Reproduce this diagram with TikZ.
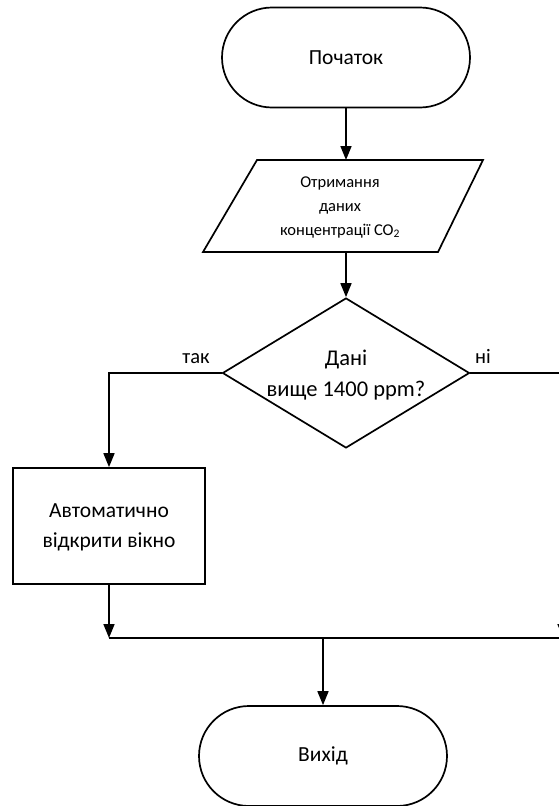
\documentclass[tikz,border=0pt]{standalone}
\usepackage{fontspec}
\setmainfont{Carlito}
\usetikzlibrary{shapes.geometric,arrows.meta}
\tikzset{
  terminal/.style={draw, rounded corners=50pt, minimum width=248pt, minimum height=100pt, inner sep=0pt},
  decision/.style={draw, diamond, minimum width=247pt, minimum height=150pt, inner sep=0pt},
  process/.style={draw, rectangle, minimum width=192pt, minimum height=116pt, inner sep=0pt},
  txt/.style={align=center, font=\fontsize{21.5}{30}\selectfont},
  lbl/.style={font=\fontsize{20.5}{22}\selectfont},
  flow/.style={-{Triangle[length=14pt,width=11pt]}}
}
\begin{document}
\begin{tikzpicture}[x=1pt, y=-1pt, line width=1.7pt]
\useasboundingbox (0,0) rectangle (559,806);
\clip (0,0) rectangle (559,806);
\node[terminal] (start) at (346,57.5) {};
\node[txt] (starttxt) at (start) {Початок};
% input parallelogram
\coordinate (p1) at (257,160);
\coordinate (p2) at (483,160);
\coordinate (p3) at (438,252);
\coordinate (p4) at (203,252);
\draw (p1) -- (p2) -- (p3) -- (p4) -- cycle;
\node[align=center, font=\fontsize{16.5}{24}\selectfont] (input) at (340,207) {Отримання\\даних\\концентрації CO\textsubscript{2}};
\coordinate (intop) at (346,160);
\coordinate (inbot) at (346,252);
\node[decision] (dec) at (346,373) {};
\node[align=center, font=\fontsize{22.5}{31}\selectfont] (dectxt) at (346,375) {Дані\\вище 1400 ppm?};
\node[process] (act) at (109,526) {};
\node[txt] (acttxt) at (109,527) {Автоматично\\відкрити вікно};
\node[terminal] (stop) at (323,756) {};
\node[txt] (stoptxt) at (stop) {Вихід};
\node[lbl] (yes) at (196,359) {так};
\node[lbl] (no) at (483,356) {ні};
\coordinate (lc) at (109,638);
\coordinate (rc) at (563,638);
\coordinate (mc) at (323,638);
\draw[flow] (start.south) -- (intop);
\draw[flow] (inbot) -- (dec.north);
\draw[flow] (dec.west) -| (act.north);
\draw[flow] (dec.east) -| (rc);
\draw[flow] (act.south) -- (lc);
\draw (lc) -- (rc);
\draw[flow] (mc) -- (stop.north);
\end{tikzpicture}
\end{document}
